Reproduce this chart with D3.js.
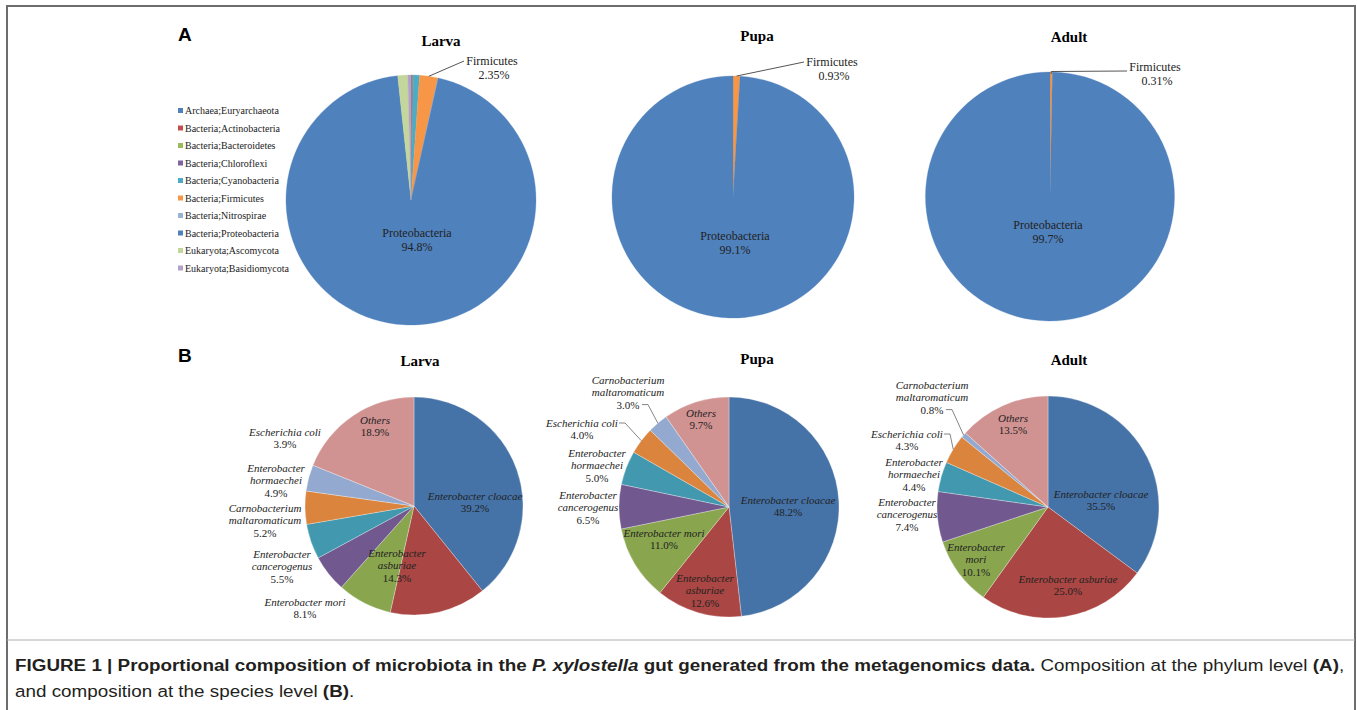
<!DOCTYPE html>
<html lang="en">

<head>
  <title></title>
  <meta charset="UTF-8">
  <style>
    body {
      margin: 0;
      background: #fff;
    }
  </style>
</head>

<body>
  <div id="container"></div>
  <script src="https://cdn.jsdelivr.net/npm/d3@7"></script>
  <script>
    // ---- data ----
    const stages = ['Larva', 'Pupa', 'Adult'];

    const phyla = ['Archaea;Euryarchaeota', 'Bacteria;Actinobacteria', 'Bacteria;Bacteroidetes',
      'Bacteria;Chloroflexi', 'Bacteria;Cyanobacteria', 'Bacteria;Firmicutes', 'Bacteria;Nitrospirae',
      'Bacteria;Proteobacteria', 'Eukaryota;Ascomycota', 'Eukaryota;Basidiomycota'];
    const phylaColors = ['#4f81bd', '#c0504d', '#9bbb59', '#8064a2', '#4bacc6', '#f79646',
      '#95b3d7', '#4f81bd', '#c3d69b', '#b3a2c7'];
    // percent, same order as phyla
    const larvaPhyla = [0.1, 0.1, 0.05, 0.05, 0.8, 2.35, 0.05, 94.8, 1.3, 0.4];
    const pupaPhyla = [0, 0, 0, 0, 0, 0.93, 0, 99.07, 0, 0];
    const adultPhyla = [0, 0, 0, 0, 0, 0.31, 0, 99.69, 0, 0];
    const phylaLabels = [['Firmicutes', '2.35%', 'Proteobacteria', '94.8%'],
      ['Firmicutes', '0.93%', 'Proteobacteria', '99.1%'],
      ['Firmicutes', '0.31%', 'Proteobacteria', '99.7%']];

    const speciesColors = ['#4572a7', '#aa4643', '#89a54e', '#71588f', '#4198af', '#db843d', '#93a9cf', '#d19392'];
    const larvaSpecies = ['Enterobacter cloacae', 'Enterobacter asburiae', 'Enterobacter mori',
      'Enterobacter cancerogenus', 'Carnobacterium maltaromaticum', 'Enterobacter hormaechei',
      'Escherichia coli', 'Others'];
    const larvaValues = [39.2, 14.3, 8.1, 5.5, 5.2, 4.9, 3.9, 18.9];
    const laterSpecies = ['Enterobacter cloacae', 'Enterobacter asburiae', 'Enterobacter mori',
      'Enterobacter cancerogenus', 'Enterobacter hormaechei', 'Escherichia coli',
      'Carnobacterium maltaromaticum', 'Others'];
    const pupaValues = [48.2, 12.6, 11.0, 6.5, 5.0, 4.0, 3.0, 9.7];
    const adultValues = [35.5, 25.0, 10.1, 7.4, 4.4, 4.3, 0.8, 13.5];

    // ---- layout ----
    const W = 1357, H = 710;
    const svg = d3.select('#container').append('svg')
      .attr('width', W).attr('height', H)
      .style('font-family', '"Liberation Serif", "Times New Roman", serif');

    svg.append('rect').attr('width', W).attr('height', H).attr('fill', '#fff');
    svg.append('rect').attr('x', 7).attr('y', 6).attr('width', 1348).attr('height', 720)
      .attr('fill', 'none').attr('stroke', '#6d6d6d').attr('stroke-width', 2);
    svg.append('line').attr('x1', 7).attr('x2', 1355).attr('y1', 640).attr('y2', 640)
      .attr('stroke', '#b0b0b0').attr('stroke-width', 1);

    const pie = d3.pie().sort(null).value(d => d.v);

    // panel A
    const aPies = [
      { cx: 411, cy: 200, r: 125, vals: larvaPhyla, tx: 441, ty: 46, pl: [417, 237], fl: [492, 65], fHoriz: false },
      { cx: 733, cy: 197, r: 121, vals: pupaPhyla, tx: 757, ty: 41, pl: [735, 240], fl: [832, 66], fHoriz: false },
      { cx: 1050, cy: 196.5, r: 124.5, vals: adultPhyla, tx: 1069, ty: 42, pl: [1048, 229], fl: [1155, 71], fHoriz: true }
    ];

    svg.append('text').attr('x', 178).attr('y', 41).text('A')
      .style('font-family', '"Liberation Sans", Arial, sans-serif').style('font-weight', 'bold').style('font-size', '19px');
    svg.append('text').attr('x', 178).attr('y', 362).text('B')
      .style('font-family', '"Liberation Sans", Arial, sans-serif').style('font-weight', 'bold').style('font-size', '19px');

    aPies.forEach((p, i) => {
      const data = phyla.map((name, j) => ({ name: name, v: p.vals[j], c: phylaColors[j] }));
      const arcs = pie(data);
      const arc = d3.arc().innerRadius(0).outerRadius(p.r);
      const g = svg.append('g').attr('transform', `translate(${p.cx},${p.cy})`);
      g.selectAll('path').data(arcs.filter(a => a.data.v > 0)).join('path')
        .attr('d', arc).attr('fill', d => d.data.c)
        .attr('stroke', d => d.data.c).attr('stroke-width', 0.3);

      svg.append('text').attr('x', p.tx).attr('y', p.ty).attr('text-anchor', 'middle')
        .style('font-weight', 'bold').style('font-size', '15px').text(stages[i]);

      const lab = phylaLabels[i];
      const t = svg.append('text').attr('text-anchor', 'middle').style('font-size', '12px').attr('fill', '#222');
      t.append('tspan').attr('x', p.pl[0]).attr('y', p.pl[1]).text(lab[2]);
      t.append('tspan').attr('x', p.pl[0]).attr('y', p.pl[1] + 14).text(lab[3]);

      const f = svg.append('text').attr('text-anchor', 'middle').style('font-size', '12px').attr('fill', '#222');
      f.append('tspan').attr('x', p.fl[0]).attr('y', p.fl[1]).text(lab[0]);
      f.append('tspan').attr('x', p.fl[0] + 2).attr('y', p.fl[1] + 14).text(lab[1]);

      // leader to the Firmicutes slice
      const fa = arcs[5];
      const mid = (fa.startAngle + fa.endAngle) / 2;
      const ex = p.cx + p.r * Math.sin(mid), ey = p.cy - p.r * Math.cos(mid);
      const sx = p.fl[0] - 28, sy = p.fHoriz ? p.fl[1] : p.fl[1] - 4;
      svg.append('path')
        .attr('d', p.fHoriz ? `M${sx},${sy}L${ex},${ey - 0.5}L${ex},${ey + 2}` : `M${sx},${sy}L${ex},${ey}`)
        .attr('fill', 'none').attr('stroke', '#555').attr('stroke-width', 1);
    });

    // legend
    const leg = svg.append('g').attr('transform', 'translate(178,111)');
    phyla.forEach((name, j) => {
      leg.append('rect').attr('x', 0).attr('y', j * 17.5 - 3).attr('width', 5).attr('height', 5).attr('fill', phylaColors[j]);
      leg.append('text').attr('x', 7).attr('y', j * 17.5 + 3).style('font-size', '10px').attr('fill', '#222').text(name);
    });

    // panel B
    // label anchor (centre of first line) relative to pie centre, and how the name is split
    const bPies = [
      {
        cx: 414, cy: 506, r: 109, names: larvaSpecies, vals: larvaValues, tx: 420, ty: 366,
        lab: [[61, -10, 1], [-17, 47, 2], [-109, 96, 1], [-132, 48, 2], [-149, 2, 2], [-138, -38, 2], [-129, -74, 1], [-39, -86, 1]],
        leader: []
      },
      {
        cx: 729, cy: 507, r: 110, names: laterSpecies, vals: pupaValues, tx: 757, ty: 364,
        lab: [[59, -7, 1], [-24, 71, 2], [-65, 26, 1], [-141, -12, 2], [-132, -54, 2], [-147, -84, 1], [-101, -127, 2], [-28, -94, 1]],
        leader: [5, 6]
      },
      {
        cx: 1048, cy: 507, r: 111, names: laterSpecies, vals: adultValues, tx: 1069, ty: 365,
        lab: [[53, -13, 1], [20, 72, 1], [-72, 40, 3], [-141, -5, 2], [-134, -45, 2], [-141, -73, 1], [-116, -122, 2], [-35, -89, 1]],
        leader: [5, 6]
      }
    ];

    bPies.forEach((p, i) => {
      const data = p.names.map((n, j) => ({ name: n, v: p.vals[j], c: speciesColors[j] }));
      const arcs = pie(data);
      const arc = d3.arc().innerRadius(0).outerRadius(p.r);
      const g = svg.append('g').attr('transform', `translate(${p.cx},${p.cy})`);
      g.selectAll('path').data(arcs).join('path')
        .attr('d', arc).attr('fill', d => d.data.c)
        .attr('stroke', '#fff').attr('stroke-width', 0.5).attr('stroke-opacity', 0.6);

      svg.append('text').attr('x', p.tx).attr('y', p.ty).attr('text-anchor', 'middle')
        .style('font-weight', 'bold').style('font-size', '15px').text(stages[i]);

      arcs.forEach((a, j) => {
        const [dx, dy, mode] = p.lab[j];
        const words = a.data.name.split(' ');
        let lines;
        if (mode === 1) lines = [a.data.name];
        else if (mode === 2) lines = [words[0], words.slice(1).join(' ')];
        else lines = words;
        const x = p.cx + dx, y0 = p.cy + dy + 4;
        const t = svg.append('text').attr('text-anchor', 'middle').style('font-size', '11px').attr('fill', '#222');
        lines.forEach((ln, k) => {
          t.append('tspan').attr('x', x).attr('y', y0 + k * 12.3).style('font-style', 'italic').text(ln);
        });
        t.append('tspan').attr('x', x).attr('y', y0 + lines.length * 12.3).text(a.data.v.toFixed(1) + '%');

        if (p.leader.includes(j)) {
          const mid = (a.startAngle + a.endAngle) / 2;
          const ex = p.cx + p.r * Math.sin(mid), ey = p.cy - p.r * Math.cos(mid);
          const ly = y0 + (lines.length - (j === 5 ? 1 : 0)) * 12.3 - 4;
          const lx = j === 5 ? x + 37 : x + 14;
          svg.append('path').attr('d', `M${lx},${ly}L${lx + 6},${ly}L${ex},${ey}`)
            .attr('fill', 'none').attr('stroke', '#666').attr('stroke-width', 0.8);
        }
      });
    });

    // caption (condensed face imitated by a horizontal squeeze)
    const capFont = 17;
    const capG = svg.append('g');
    const cap = capG.append('text').attr('x', 0).attr('y', 671)
      .style('font-family', '"Liberation Sans", Arial, sans-serif')
      .style('font-size', capFont + 'px').attr('fill', '#231f20');
    cap.append('tspan').style('font-weight', 'bold').text('FIGURE 1 | Proportional composition of microbiota in the ');
    cap.append('tspan').style('font-weight', 'bold').style('font-style', 'italic').text('P. xylostella');
    cap.append('tspan').style('font-weight', 'bold').text(' gut generated from the metagenomics data.');
    cap.append('tspan').text(' Composition at the phylum level ');
    cap.append('tspan').style('font-weight', 'bold').text('(A)');
    cap.append('tspan').text(',');
    const cap2 = capG.append('text').attr('x', 0).attr('y', 697)
      .style('font-family', '"Liberation Sans", Arial, sans-serif')
      .style('font-size', capFont + 'px').attr('fill', '#231f20');
    cap2.append('tspan').text('and composition at the species level ');
    cap2.append('tspan').style('font-weight', 'bold').text('(B)');
    cap2.append('tspan').text('.');

    const w1 = cap.node().getComputedTextLength();
    const sx = w1 > 0 ? 1330 / w1 : 0.85;
    capG.attr('transform', `translate(15,0) scale(${sx},1)`);
  </script>
</body>

</html>
